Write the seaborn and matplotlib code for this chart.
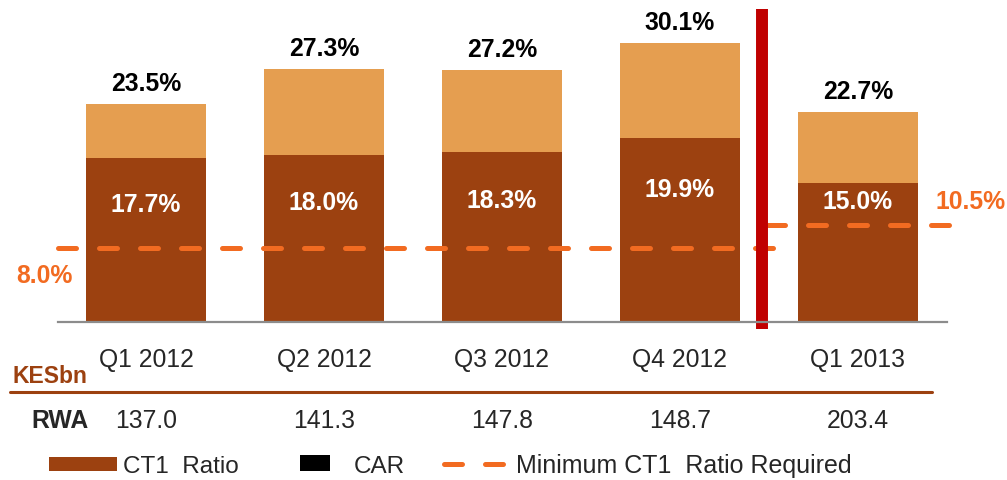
import numpy as np
import pandas as pd
import matplotlib
matplotlib.use("Agg")
import matplotlib.pyplot as plt
import matplotlib.transforms as mtransforms
from matplotlib.patches import Rectangle
from matplotlib.lines import Line2D
import seaborn as sns

sns.set_style("white")
plt.rcParams["font.family"] = ["Liberation Sans", "DejaVu Sans"]

# ---- data ----
quarters = ["Q1 2012", "Q2 2012", "Q3 2012", "Q4 2012", "Q1 2013"]
ct1_ratio = [17.7, 18.0, 18.3, 19.9, 15.0]
car_ratio = [23.5, 27.3, 27.2, 30.1, 22.7]
min_ct1 = [8.0, 8.0, 8.0, 8.0, 10.5]
rwa = [137.0, 141.3, 147.8, 148.7, 203.4]

DARK = "#9C4110"
LIGHT = "#E59E50"
ORANGE = "#F26B21"
RED = "#C00000"
FS = 17.8

df = pd.DataFrame({"quarter": quarters, "ct1": ct1_ratio, "car": car_ratio})

W, H = 1007, 481
fig = plt.figure(figsize=(W / 100, H / 100), dpi=100)
ax = fig.add_axes([58 / W, (H - 323) / H, 889 / W, 323 / H])

sns.barplot(data=df, x="quarter", y="car", color=LIGHT, width=0.674,
            linewidth=0, saturation=1, ax=ax)
sns.barplot(data=df, x="quarter", y="ct1", color=DARK, width=0.674,
            linewidth=0, saturation=1, ax=ax)

ax.set_xlim(-0.494, 4.5)
ax.set_ylim(0, 34.84)
ax.set_xlabel(""); ax.set_ylabel("")
ax.set_xticks([]); ax.set_yticks([])
for s in ["top", "left", "right"]:
    ax.spines[s].set_visible(False)
ax.spines["bottom"].set_color("#8C8C8C")
ax.spines["bottom"].set_linewidth(1.6)

# bar labels
for i, (c, t) in enumerate(zip(ct1_ratio, car_ratio)):
    ax.annotate(f"{t:.1f}%", (i, t), xytext=(0, 10), textcoords="offset points",
                ha="center", va="baseline", fontsize=FS, fontweight="bold", color="black")
    ly = max(c * 0.72, min_ct1[i] + 2.5)
    ax.text(i, ly, f"{c:.1f}%", ha="center", va="center", fontsize=FS,
            fontweight="bold", color="white")

# minimum CT1 requirement (dashed)
n = len(quarters)
ax.plot([-0.494, n - 1.47], [min_ct1[0], min_ct1[-2]], color=ORANGE, lw=3.6,
        dashes=(3.6, 4.6), dash_capstyle="round", clip_on=False)
ax.plot([n - 1.51, n - 0.48], [min_ct1[-1], min_ct1[-1]], color=ORANGE, lw=3.6,
        dashes=(3.6, 4.6), dash_capstyle="round", clip_on=False)
ax.annotate(f"{min_ct1[0]:.1f}%", (-0.494, min_ct1[0]), xytext=(-30, -19.5),
            textcoords="offset points", ha="left", va="center", fontsize=FS,
            fontweight="bold", color=ORANGE, annotation_clip=False)
ax.annotate(f"{min_ct1[-1]:.1f}%", (4.5, min_ct1[-1]), xytext=(-8.6, 17),
            textcoords="offset points", ha="left", va="center", fontsize=FS,
            fontweight="bold", color=ORANGE, annotation_clip=False)

# separator between 2012 and 2013
ax.plot([n - 1.54, n - 1.54], [-0.76, 33.76], color=RED, lw=8.6,
        solid_capstyle="butt", clip_on=False)

# table below
tr = mtransforms.blended_transform_factory(ax.transData, fig.transFigure)
fy = lambda px: 1 - px / H
for i, q in enumerate(quarters):
    ax.text(i, fy(367), q, transform=tr, ha="center", va="baseline", fontsize=FS)
    ax.text(i, fy(428), f"{rwa[i]:.1f}", transform=tr, ha="center", va="baseline", fontsize=FS)
fig.text(12 / W, fy(383), "KESbn", ha="left", va="baseline", fontsize=16.5,
         fontweight="bold", color=DARK)
fig.add_artist(Line2D([10 / W, 932 / W], [fy(393), fy(393)], color=DARK, lw=2.2))
fig.text(60 / W, fy(428), "RWA", ha="center", va="baseline", fontsize=FS, fontweight="bold")

# legend
fig.add_artist(Rectangle((49 / W, fy(472)), 68 / W, 14 / H, color=DARK, lw=0))
fig.text(123 / W, fy(473), "CT1  Ratio", ha="left", va="baseline", fontsize=17.5)
fig.add_artist(Rectangle((300 / W, fy(472)), 30 / W, 16 / H, color="black", lw=0))
fig.text(354 / W, fy(473), "CAR", ha="left", va="baseline", fontsize=17.5)
fig.add_artist(Line2D([444 / W, 503 / W], [fy(465), fy(465)], color=ORANGE, lw=3.6,
                      dashes=(3.6, 4.6), dash_capstyle="round"))
fig.text(516 / W, fy(473), "Minimum CT1  Ratio Required", ha="left", va="baseline", fontsize=18)

fig.savefig("out.png", dpi=100)
